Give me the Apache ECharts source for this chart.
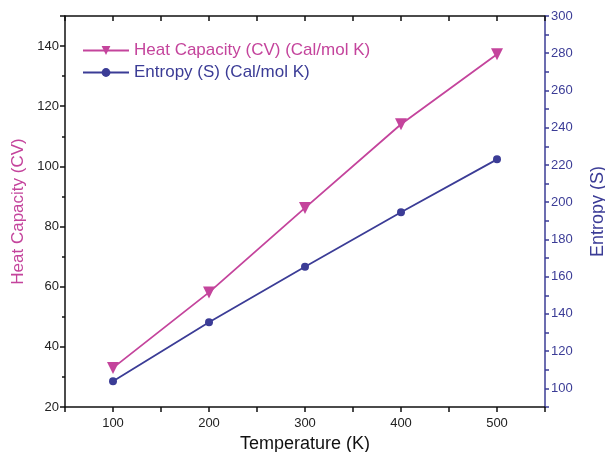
<!DOCTYPE html>
<html>
<head>
<meta charset="utf-8">
<script src="https://cdn.jsdelivr.net/npm/echarts@6/dist/echarts.min.js"></script>
<style>
  html, body { margin: 0; padding: 0; background: #fff; }
  #chart { width: 605px; height: 452px; }
</style>
</head>
<body>
<div id="chart"></div>
<script>
// temperatures (K)
const temperatures = [100, 200, 300, 400, 500];
// heat capacity CV (Cal/mol K)
const heatCapacity = [33, 58.1, 86.2, 114, 137.3];
// entropy S (Cal/mol K)
const entropy = [103.8, 135.5, 165.3, 194.6, 223];

const PINK = '#c4449c';
const NAVY = '#3b3c96';
const FONT = 'Liberation Sans, Arial, sans-serif';

const chart = echarts.init(document.getElementById('chart'));

const xCommon = {
    type: 'value',
    min: 50,
    max: 550,
    interval: 50,
    axisLine: { show: true, onZero: false, lineStyle: { color: '#111', width: 1.5 } },
    splitLine: { show: false }
};

chart.setOption({
    animation: false,
    grid: { left: 65, right: 60, top: 16, bottom: 45, outerBoundsMode: 'none', containLabel: false },
    legend: {
        left: 77,
        top: 37,
        orient: 'vertical',
        itemGap: 5,
        itemWidth: 46,
        itemHeight: 11,
        textStyle: { fontFamily: FONT, fontSize: 17 },
        data: [
            { name: 'Heat Capacity (CV) (Cal/mol K)', textStyle: { color: PINK } },
            { name: 'Entropy (S) (Cal/mol K)', textStyle: { color: NAVY } }
        ]
    },
    xAxis: [
        Object.assign({}, xCommon, {
            position: 'bottom',
            name: 'Temperature (K)',
            nameLocation: 'middle',
            nameGap: 25,
            nameTextStyle: { fontFamily: FONT, fontSize: 18, color: '#111' },
            axisTick: { show: true, inside: false, length: 5, lineStyle: { color: '#111', width: 1.5 } },
            axisLabel: {
                fontFamily: FONT, fontSize: 13, color: '#222', margin: 10,
                formatter: v => (v % 100 === 0) ? String(v) : ''
            }
        }),
        Object.assign({}, xCommon, {
            position: 'top',
            axisTick: { show: true, inside: true, length: 5, lineStyle: { color: '#111', width: 1.5 } },
            axisLabel: { show: false }
        })
    ],
    yAxis: [
        {
            type: 'value',
            position: 'left',
            min: 20,
            max: 150,
            interval: 20,
            name: 'Heat Capacity (CV)',
            nameLocation: 'middle',
            nameGap: 38,
            nameTextStyle: { fontFamily: FONT, fontSize: 17, color: PINK },
            axisLine: { show: true, lineStyle: { color: '#111', width: 1.5 } },
            axisTick: { show: true, length: 5, lineStyle: { color: '#111', width: 1.5 } },
            minorTick: { show: true, splitNumber: 2, length: 3, lineStyle: { color: '#111', width: 1.5 } },
            axisLabel: { fontFamily: FONT, fontSize: 13, color: '#222', margin: 6, showMaxLabel: false },
            splitLine: { show: false }
        },
        {
            type: 'value',
            position: 'right',
            min: 90,
            max: 300,
            interval: 10,
            name: 'Entropy (S)',
            nameLocation: 'middle',
            nameGap: 44,
            nameTextStyle: { fontFamily: FONT, fontSize: 18, color: NAVY },
            axisLine: { show: true, lineStyle: { color: NAVY, width: 1.5 } },
            axisTick: { show: true, length: 4, lineStyle: { color: NAVY, width: 1.5 } },
            axisLabel: {
                fontFamily: FONT, fontSize: 13, color: NAVY, margin: 6,
                formatter: v => (v % 20 === 0 && v >= 100) ? String(v) : ''
            },
            splitLine: { show: false }
        }
    ],
    series: [
        {
            name: 'Heat Capacity (CV) (Cal/mol K)',
            type: 'line',
            xAxisIndex: 0,
            yAxisIndex: 0,
            data: temperatures.map((t, i) => [t, heatCapacity[i]]),
            symbol: 'triangle',
            symbolRotate: 180,
            symbolSize: 12,
            color: PINK,
            lineStyle: { color: PINK, width: 1.8 },
            itemStyle: { color: PINK }
        },
        {
            name: 'Entropy (S) (Cal/mol K)',
            type: 'line',
            xAxisIndex: 0,
            yAxisIndex: 1,
            data: temperatures.map((t, i) => [t, entropy[i]]),
            symbol: 'circle',
            symbolSize: 8,
            color: NAVY,
            lineStyle: { color: NAVY, width: 1.8 },
            itemStyle: { color: NAVY }
        }
    ]
});
</script>
</body>
</html>
